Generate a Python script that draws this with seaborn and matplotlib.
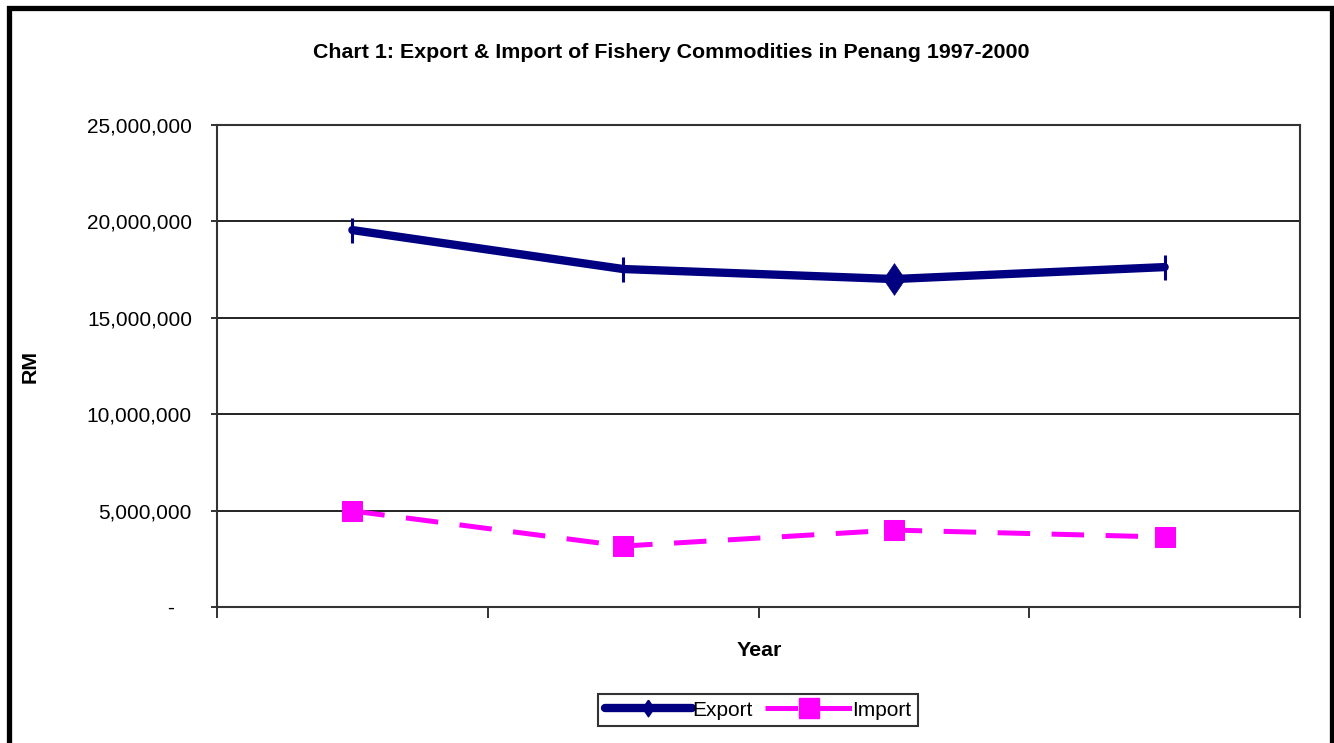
import matplotlib
matplotlib.use("Agg")
import matplotlib.pyplot as plt
from matplotlib.patches import Rectangle
from matplotlib.lines import Line2D
from matplotlib.ticker import FuncFormatter
import seaborn as sns
import pandas as pd

years = ["1997", "1998", "1999", "2000"]
export_rm = [19550000, 17530000, 17010000, 17630000]
import_rm = [4980000, 3160000, 3990000, 3630000]

sns.set_theme(style="white")
plt.rcParams["font.family"] = ["Liberation Sans", "DejaVu Sans"]
plt.rcParams.update({"text.color": "black", "axes.labelcolor": "black",
                     "xtick.color": "black", "ytick.color": "black"})

W, H = 1334, 743
fig = plt.figure(figsize=(W / 100, H / 100), dpi=100)
ax = fig.add_axes([217 / W, 1 - 607 / H, (1300 - 217) / W, (607 - 125) / H])

df = pd.DataFrame({"Year": years, "Export": export_rm, "Import": import_rm})

navy = "#000080"
magenta = "#FF00FF"
tall_diamond = [(0, 1), (0.68, 0), (0, -1), (-0.68, 0), (0, 1)]

# Export series: thick navy line, tick markers, one diamond
sns.lineplot(data=df, x="Year", y="Export", ax=ax, color=navy, linewidth=6,
             marker="|", markersize=18, markeredgewidth=2.2,
             markeredgecolor=navy, solid_capstyle="round", zorder=4)
sns.scatterplot(data=df.iloc[[2]], x="Year", y="Export", ax=ax, color=navy,
                marker=tall_diamond, s=520, edgecolor=navy, linewidth=0.5,
                zorder=5)

# Import series: dashed magenta line with square markers
sns.lineplot(data=df, x="Year", y="Import", ax=ax, color=magenta, linewidth=3.6,
             marker="s", markersize=15, markeredgecolor=magenta,
             dashes=False, zorder=4)
ax.lines[-1].set_dashes([6.5, 4.3])

ax.set_xlim(-0.5, 3.5)
ax.set_ylim(0, 25000000)
ax.set_yticks(range(0, 25000001, 5000000))
ax.yaxis.set_major_formatter(
    FuncFormatter(lambda v, p: "-   " if v == 0 else f"{v:,.0f}"))
ax.set_xticks([-0.5, 0.5, 1.5, 2.5, 3.5])
ax.set_xticklabels([])
ax.set_xlabel("")
ax.set_ylabel("")

ax.grid(axis="y", color="#111111", linewidth=1.3, zorder=1)
ax.set_axisbelow(True)
for s in ax.spines.values():
    s.set_color("#333333")
    s.set_linewidth(1.5)
    s.set_visible(True)

ax.tick_params(axis="y", direction="out", length=4, width=1.3, color="#222222",
               labelsize=15, pad=14, left=True)
ax.tick_params(axis="x", direction="out", length=8, width=1.3, color="#222222",
               bottom=True)

fig.text(671 / W, 1 - 53 / H, "Chart 1: Export & Import of Fishery Commodities in Penang 1997-2000",
         ha="center", va="center", fontsize=15.4, fontweight="bold")
fig.text(759 / W, 1 - 651 / H, "Year", ha="center", va="center",
         fontsize=15.4, fontweight="bold")
fig.text(30 / W, 1 - 367 / H, "RM", ha="center", va="center", rotation=90,
         fontsize=15.4, fontweight="bold")

handles = [
    Line2D([], [], color=navy, linewidth=6, marker=tall_diamond, markersize=12,
           solid_capstyle="round"),
    Line2D([], [], color=magenta, linewidth=3.6, marker="s", markersize=14,
           dashes=[6.5, 4.3]),
]
leg = fig.legend(handles, ["Export", "Import"], loc="center",
                 bbox_to_anchor=(758 / W, 1 - 710 / H), ncol=2, fontsize=15,
                 frameon=True, fancybox=False, handlelength=4.2,
                 handletextpad=0.0, columnspacing=0.6, borderpad=0.3,
                 borderaxespad=0)
leg.get_frame().set_edgecolor("black")
leg.get_frame().set_linewidth(1.5)

# Outer chart border
fig.patches.append(Rectangle((8.5 / W, -0.05), (1332 - 8.5) / W, 1.05 - 7.5 / H,
                             transform=fig.transFigure, fill=False,
                             edgecolor="black", linewidth=3.8, clip_on=False))

fig.savefig("out.png", dpi=100)
